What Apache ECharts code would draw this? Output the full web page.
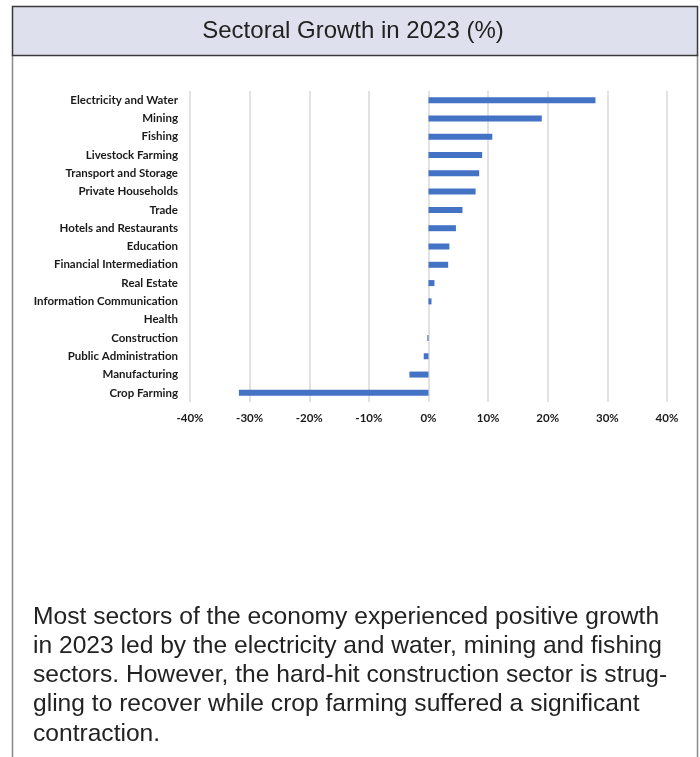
<!DOCTYPE html>
<html>
<head>
<meta charset="utf-8">
<script src="https://cdn.jsdelivr.net/npm/echarts@6/dist/echarts.min.js"></script>
<style>
  html, body { margin: 0; padding: 0; background: #ffffff; }
  #chart { width: 700px; height: 757px; }
</style>
</head>
<body>
<div id="chart"></div>
<script>
// Sectors, top to bottom as listed on the chart
const sectors = [
  'Electricity and Water', 'Mining', 'Fishing', 'Livestock Farming',
  'Transport and Storage', 'Private Households', 'Trade',
  'Hotels and Restaurants', 'Education', 'Financial Intermediation',
  'Real Estate', 'Information Communication', 'Health', 'Construction',
  'Public Administration', 'Manufacturing', 'Crop Farming'
];
// Growth in 2023, percent
const growth = [
  28.0, 19.0, 10.7, 9.0, 8.5, 7.9, 5.7, 4.6, 3.5, 3.3,
  1.0, 0.5, 0.0, -0.2, -0.8, -3.2, -31.8
];
const axisTicks = [-40, -30, -20, -10, 0, 10, 20, 30, 40];

const noteLines = [
  'Most sectors of the economy experienced positive growth',
  'in 2023 led by the electricity and water, mining and fishing',
  'sectors. However, the hard-hit construction sector is strug-',
  'gling to recover while crop farming suffered a significant',
  'contraction.'
];

const chart = echarts.init(document.getElementById('chart'), null, { renderer: 'canvas' });

const labelFont = 'Lato, "Open Sans", sans-serif';
const bodyFont = '"Liberation Sans", Arial, Helvetica, sans-serif';

const graphics = [
  // outer frame sides
  { type: 'line', shape: { x1: 12.5, y1: 55, x2: 12.5, y2: 757 }, style: { stroke: '#8a8a8a', lineWidth: 1.5 }, z: 1 },
  { type: 'line', shape: { x1: 697.5, y1: 55, x2: 697.5, y2: 757 }, style: { stroke: '#8a8a8a', lineWidth: 1.5 }, z: 1 },
  // title band
  { type: 'rect', shape: { x: 12.5, y: 6.5, width: 685, height: 49 },
    style: { fill: '#dfe0ee', stroke: '#3a3a3a', lineWidth: 1.5 }, z: 2 },
  { type: 'text', x: 353, y: 31, style: {
      text: 'Sectoral Growth in 2023 (%)', fill: '#222222',
      font: '24px ' + bodyFont, align: 'center', verticalAlign: 'middle' }, z: 3 }
];
noteLines.forEach(function (line, i) {
  graphics.push({ type: 'text', x: 33, y: 617 + i * 29.2, style: {
    text: line, fill: '#222222', font: '24.6px ' + bodyFont,
    align: 'left', verticalAlign: 'middle' }, z: 3 });
});

chart.setOption({
  animation: false,
  backgroundColor: '#ffffff',
  grid: { left: 190, right: 33, top: 91, bottom: 355, containLabel: false },
  xAxis: {
    type: 'value',
    min: -40, max: 40, interval: 10,
    axisLine: { show: false },
    axisTick: { show: false },
    splitLine: { show: true, lineStyle: { color: '#d9d9d9', width: 1.5 } },
    axisLabel: {
      margin: 10,
      color: '#1a1a1a', fontFamily: labelFont, fontWeight: 'bold', fontSize: 11.5,
      customValues: axisTicks,
      formatter: function (v) { return v + '%'; }
    }
  },
  yAxis: {
    type: 'category',
    data: sectors,
    inverse: true,
    axisLine: { show: false },
    axisTick: { show: false },
    splitLine: { show: false },
    axisLabel: {
      margin: 12, interval: 0,
      color: '#1a1a1a', fontFamily: labelFont, fontWeight: 'bold', fontSize: 11.5
    }
  },
  series: [{
    type: 'bar',
    data: growth,
    barWidth: 6,
    itemStyle: { color: '#4472c4' },
    silent: true
  }],
  graphic: graphics
});
</script>
</body>
</html>
